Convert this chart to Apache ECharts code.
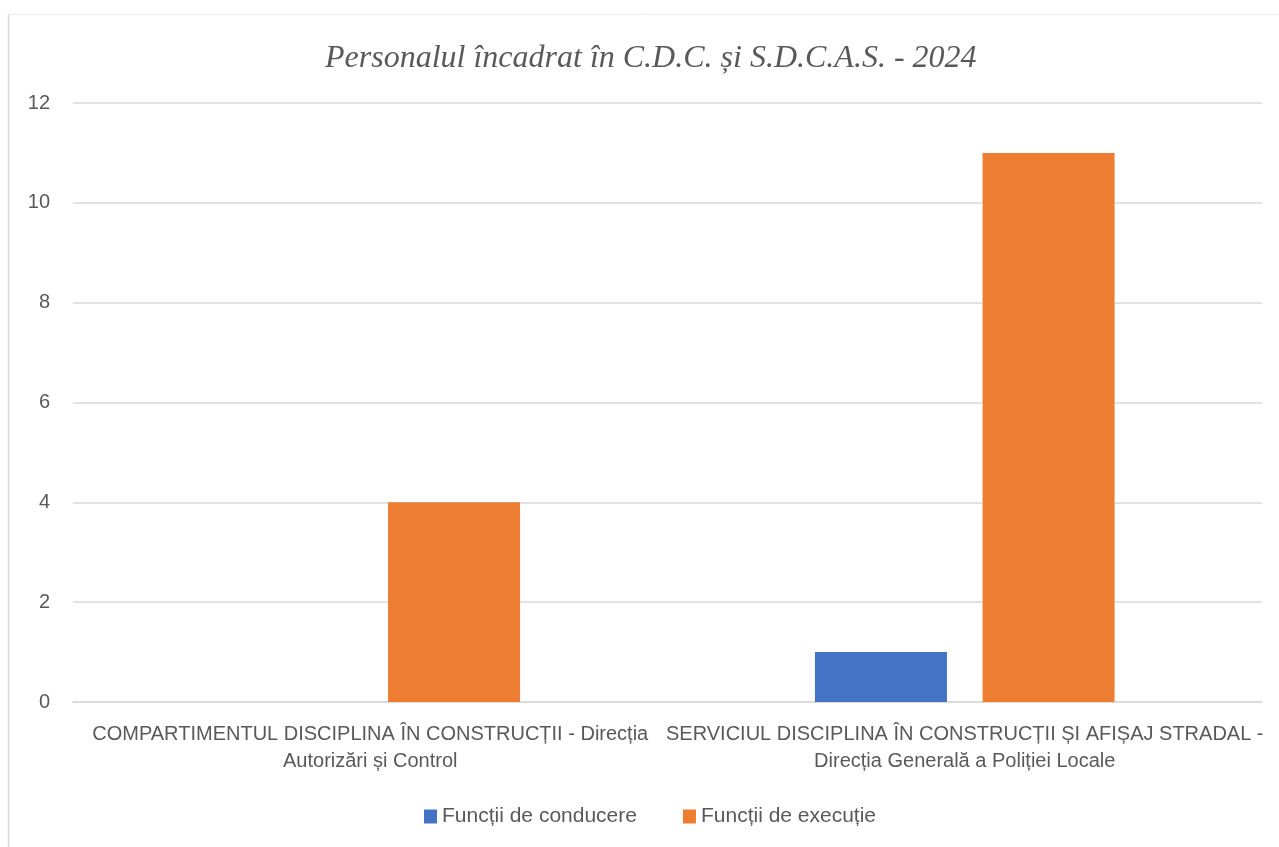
<!DOCTYPE html>
<html>
<head>
<meta charset="utf-8">
<script src="https://cdn.jsdelivr.net/npm/echarts@6/dist/echarts.min.js"></script>
<style>
html,body{margin:0;padding:0;background:#fff;}
#chart{width:1279px;height:847px;}
</style>
</head>
<body>
<div id="chart"></div>
<script>
const titleText = 'Personalul încadrat în C.D.C. și S.D.C.A.S. - 2024';
const categories = [
  'COMPARTIMENTUL DISCIPLINA ÎN CONSTRUCȚII - Direcția\nAutorizări și Control',
  'SERVICIUL DISCIPLINA ÎN CONSTRUCȚII ȘI AFIȘAJ STRADAL -\nDirecția Generală a Poliției Locale'
];
const seriesNames = ['Funcții de conducere', 'Funcții de execuție'];
const conducere = [0, 1];
const executie = [4, 11];
const yMin = 0, yMax = 12, yStep = 2;

const labelFont = 'Liberation Sans';
const txt = '#595959';

const chart = echarts.init(document.getElementById('chart'), null, {renderer: 'canvas'});
chart.setOption({
  backgroundColor: '#ffffff',
  animation: false,
  graphic: [
    {type: 'line', shape: {x1: 8.5, y1: 14, x2: 8.5, y2: 847}, style: {stroke: '#d9d9d9', lineWidth: 1.5}},
    {type: 'line', shape: {x1: 8, y1: 14.5, x2: 1279, y2: 14.5}, style: {stroke: '#ececec', lineWidth: 1}}
  ],
  title: {
    text: titleText,
    left: 325,
    top: 43,
    padding: 0,
    textStyle: {
      fontFamily: 'Liberation Serif',
      fontStyle: 'italic',
      fontWeight: 'normal',
      fontSize: 32,
      color: txt
    }
  },
  legend: {
    data: seriesNames,
    left: 424,
    top: 806,
    padding: 0,
    itemWidth: 13,
    itemHeight: 14,
    itemGap: 46,
    icon: 'rect',
    textStyle: {fontFamily: labelFont, fontSize: 21, color: txt}
  },
  grid: {left: 73, right: 17, top: 103, bottom: 145, containLabel: false},
  xAxis: {
    type: 'category',
    data: categories,
    axisLine: {show: true, lineStyle: {color: '#d9d9d9', width: 1.5}},
    axisTick: {show: false},
    axisLabel: {
      interval: 0,
      margin: 19,
      fontFamily: labelFont,
      fontSize: 20,
      lineHeight: 27,
      color: txt,
      align: 'center'
    }
  },
  yAxis: {
    type: 'value',
    min: yMin,
    max: yMax,
    interval: yStep,
    axisLine: {show: false},
    axisTick: {show: false},
    splitLine: {lineStyle: {color: '#d9d9d9', width: 1.5}},
    axisLabel: {margin: 23, fontFamily: labelFont, fontSize: 20, color: txt}
  },
  series: [
    {
      name: seriesNames[0],
      type: 'bar',
      data: conducere,
      barWidth: 132,
      barGap: '27%',
      itemStyle: {color: '#4472c4'}
    },
    {
      name: seriesNames[1],
      type: 'bar',
      data: executie,
      barWidth: 132,
      barGap: '27%',
      itemStyle: {color: '#ed7d31'}
    }
  ]
});
</script>
</body>
</html>
